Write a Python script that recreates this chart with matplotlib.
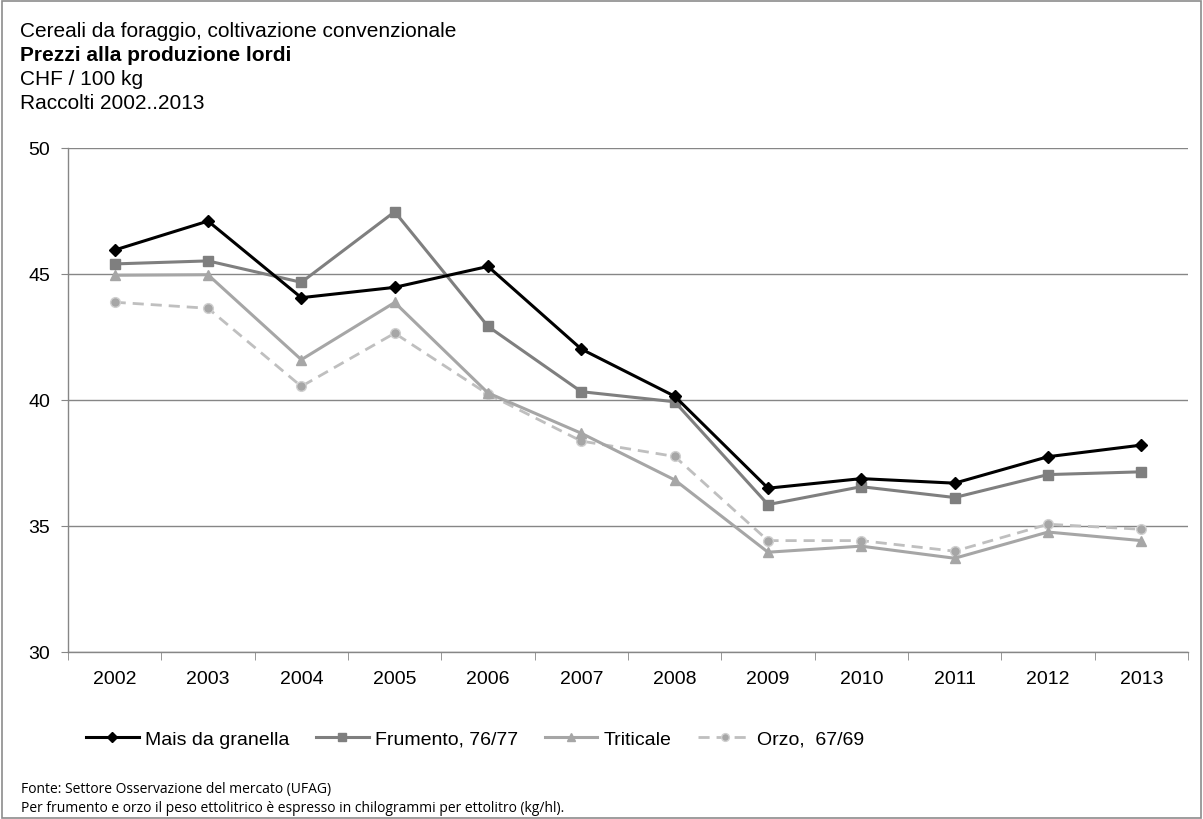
import numpy as np
import matplotlib
matplotlib.use("Agg")
import matplotlib.pyplot as plt
from matplotlib.patches import Rectangle

plt.rcParams['font.family'] = ['Liberation Sans', 'DejaVu Sans']

years = ['2002', '2003', '2004', '2005', '2006', '2007', '2008', '2009', '2010', '2011', '2012', '2013']
mais = [45.95, 47.1, 44.06, 44.47, 45.3, 42.02, 40.15, 36.5, 36.88, 36.7, 37.75, 38.21]
frumento = [45.4, 45.52, 44.67, 47.47, 42.92, 40.33, 39.93, 35.85, 36.56, 36.13, 37.04, 37.15]
triticale = [44.95, 44.97, 41.6, 43.87, 40.28, 38.68, 36.83, 33.96, 34.2, 33.72, 34.76, 34.42]
orzo = [43.88, 43.64, 40.54, 42.65, 40.23, 38.37, 37.76, 34.42, 34.42, 34.0, 35.07, 34.87]
labels = ['Mais da granella', 'Frumento, 76/77', 'Triticale', 'Orzo,  67/69']

W, H = 1203, 820
fig = plt.figure(figsize=(W / 100, H / 100), dpi=100)
fig.patches.append(Rectangle((0.002, 0.001), 0.996, 0.997, transform=fig.transFigure,
                             fill=False, edgecolor='#8c8c8c', linewidth=1.2))

# axes box in pixels: x 68..1188, y 149..653
ax = fig.add_axes([68 / W, 1 - 653 / H, 1120 / W, 504 / H])
x = np.arange(len(years))

ax.plot(x, mais, color='black', lw=2.2, marker='D', ms=6.5, label=labels[0], zorder=5)
ax.plot(x, frumento, color='#7f7f7f', lw=2.2, marker='s', ms=6.5, label=labels[1], zorder=4)
ax.plot(x, triticale, color='#a6a6a6', lw=2.2, marker='^', ms=7.5, label=labels[2], zorder=3)
ax.plot(x, orzo, color='#bfbfbf', lw=2.0, ls=(0, (4, 2.5)), marker='o', ms=7,
        markerfacecolor='#a6a6a6', markeredgecolor='#d0d0d0', label=labels[3], zorder=2)

ax.set_xlim(-0.5, len(years) - 0.5)
ax.set_ylim(30, 50)
ax.set_yticks([30, 35, 40, 45, 50])
ax.set_xticks(x)
ax.set_xticklabels(years)
ax.set_xticks(np.arange(-0.5, len(years)), minor=True)
ax.tick_params(axis='x', which='major', length=0, pad=13, labelsize=14)
ax.tick_params(axis='x', which='minor', length=6, color='#868686', direction='out')
ax.tick_params(axis='y', length=5, color='#868686', direction='out', pad=8, labelsize=14)
ax.grid(axis='y', color='#868686', lw=1.0)
ax.set_axisbelow(True)
for s in ['top', 'right']:
    ax.spines[s].set_visible(False)
for s in ['left', 'bottom']:
    ax.spines[s].set_color('#868686')
    ax.spines[s].set_linewidth(1.0)

fig.legend(loc='center', bbox_to_anchor=(475 / W, 1 - 740 / H), ncol=4,
           frameon=False, fontsize=14, handlelength=2.7, columnspacing=1.4,
           handletextpad=0.3, markerscale=0.8)

tx = 20 / W
fig.text(tx, 1 - 37 / H, 'Cereali da foraggio, coltivazione convenzionale',
         fontsize=15, va='baseline')
fig.text(tx, 1 - 61 / H, 'Prezzi alla produzione lordi', fontsize=15,
         fontweight='bold', va='baseline')
fig.text(tx, 1 - 85 / H, 'CHF / 100 kg', fontsize=15, va='baseline')
fig.text(tx, 1 - 109 / H, 'Raccolti 2002..2013', fontsize=15, va='baseline')

fig.text(21 / W, 1 - 790 / H, 'Fonte: Settore Osservazione del mercato (UFAG)',
         fontsize=10, va='center', family=['Open Sans', 'DejaVu Sans'])
fig.text(21 / W, 1 - 809 / H,
         'Per frumento e orzo il peso ettolitrico è espresso in chilogrammi per ettolitro (kg/hl).',
         fontsize=10, va='center', family=['Open Sans', 'DejaVu Sans'])

fig.savefig('out.png', dpi=100)
